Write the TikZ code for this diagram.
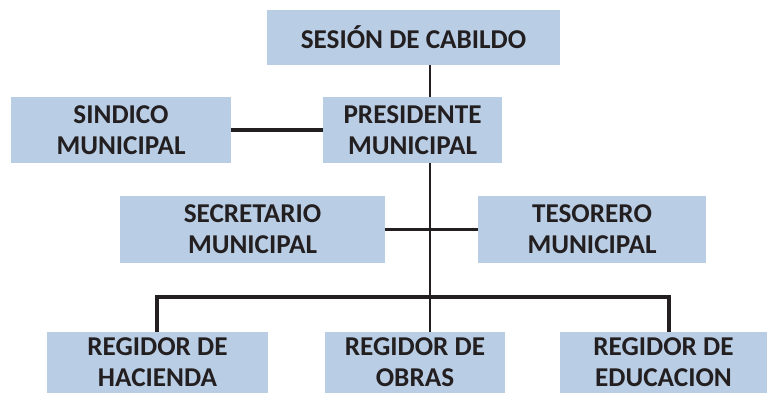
\documentclass[tikz,border=0pt]{standalone}
\usepackage{fontspec}
\setmainfont{Carlito}
\usepackage{xcolor}
\usepackage{tikz}
\usetikzlibrary{positioning,calc}
\definecolor{boxBlue}{HTML}{B9CDE5}
\definecolor{textDark}{HTML}{231F20}
\tikzstyle{nodeBox}  =[rectangle,fill=boxBlue,draw=none,align=center,inner sep=0pt,
                        text=textDark,font=\fontsize{27.2}{31}\selectfont\bfseries]
\tikzstyle{lineBranch}=[line width=3.2pt,draw=textDark]
\tikzstyle{lineTrunk} =[line width=2.2pt,draw=textDark]
\begin{document}
\begin{tikzpicture}[x=1pt,y=-1pt]
        \useasboundingbox (0,0) rectangle (767,393);
        \node[nodeBox, minimum width=293pt, minimum height=55pt] (1) at (413.5,37.5) {SESIÓN DE CABILDO};
        \node[nodeBox, minimum width=179pt, minimum height=66pt] (2) at (412.5,130) {PRESIDENTE\\MUNICIPAL};
        \node[nodeBox, minimum width=220pt, minimum height=66pt] (3) at (121,130) {SINDICO\\MUNICIPAL};
        \node[nodeBox, minimum width=265pt, minimum height=67pt] (4) at (252.5,229.5) {SECRETARIO\\MUNICIPAL};
        \node[nodeBox, minimum width=228pt, minimum height=67pt] (5) at (592,229.5) {TESORERO\\MUNICIPAL};
        % lower boxes end at the bottom edge
        \node[nodeBox, minimum width=221pt, minimum height=61pt] (6) at (157.5,362.5) {REGIDOR DE\\HACIENDA};
        \node[nodeBox, minimum width=180pt, minimum height=61pt] (7) at (415,362.5) {REGIDOR DE\\OBRAS};
        \node[nodeBox, minimum width=207pt, minimum height=61pt] (8) at (663.5,362.5) {REGIDOR DE\\EDUCACION};
        \coordinate (t) at (430,0);
        \coordinate (bl) at (157,297);
        \coordinate (br) at (669,297);
        \draw[lineTrunk] (1.south -| t) -- (2.north -| t);
        \draw[lineTrunk] (2.south -| t) -- (7.north -| t);
        \draw[lineBranch] (3) -- (2);
        \draw[lineBranch] (4) -- (5);
        \draw[lineBranch] (6.north -| bl) -- (bl) -- (br) -- (8.north -| br);
      \end{tikzpicture}
\end{document}
